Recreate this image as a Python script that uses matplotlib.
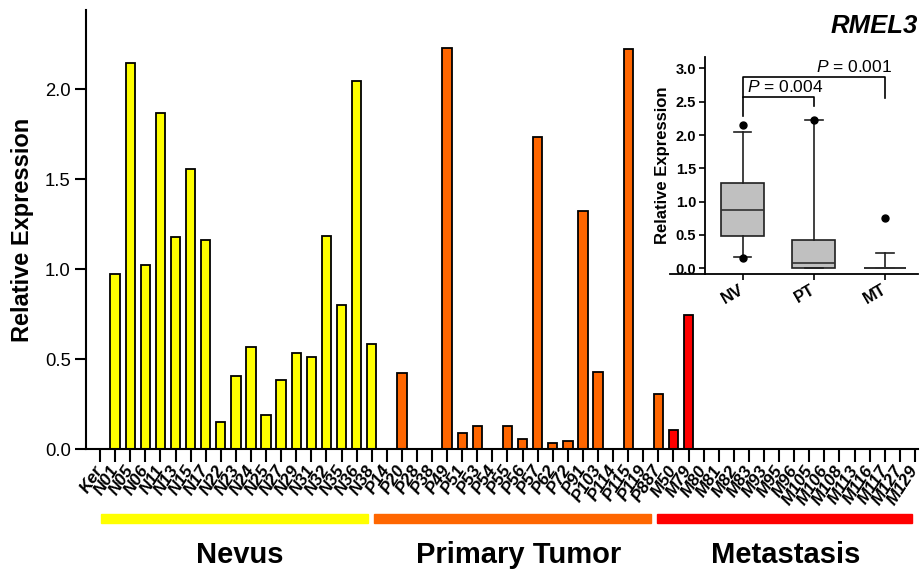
import numpy as np
import matplotlib.pyplot as plt
from matplotlib.patches import Rectangle
from matplotlib.transforms import blended_transform_factory

plt.rcParams['font.family'] = ['Liberation Sans', 'DejaVu Sans']
plt.rcParams['mathtext.fontset'] = 'custom'
plt.rcParams['mathtext.it'] = 'Liberation Sans:italic'
plt.rcParams['mathtext.rm'] = 'Liberation Sans'

# samples, grouped as in the figure
nevus_labels = ["Ker", "N01", "N05", "N06", "N11", "N13", "N15", "N17", "N22", "N23",
                "N24", "N25", "N27", "N29", "N31", "N32", "N35", "N36", "N38"]
nevus_values = [0.0, 0.97, 2.146, 1.022, 1.865, 1.18, 1.559, 1.161, 0.152, 0.407,
                0.568, 0.189, 0.383, 0.535, 0.513, 1.183, 0.798, 2.044, 0.585]
primary_labels = ["P14", "P20", "P28", "P38", "P49", "P51", "P53", "P54", "P55", "P56",
                  "P57", "P62", "P72", "P91", "P103", "P114", "P115", "P119", "P887"]
primary_values = [0.0, 0.424, 0.0, 0.0, 2.23, 0.089, 0.13, 0.0, 0.13, 0.057,
                  1.735, 0.035, 0.046, 1.324, 0.428, 0.0, 2.224, 0.0, 0.304]
meta_labels = ["M50", "M79", "M80", "M81", "M82", "M83", "M93", "M95", "M96", "M105",
               "M106", "M108", "M113", "M116", "M117", "M127", "M129"]
meta_values = [0.107, 0.746, 0, 0, 0, 0, 0, 0, 0, 0, 0, 0, 0, 0, 0, 0, 0]

group_names = ["Nevus", "Primary Tumor", "Metastasis"]
group_colors = ["#FFFF00", "#FF6600", "#FF0000"]

# inset box plot summary
box_names = ["NV", "PT", "MT"]
box_med = [0.88, 0.085, 0.0]
box_q1 = [0.487, 0.0, 0.0]
box_q3 = [1.276, 0.427, 0.0]
box_lo = [0.175, 0.0, 0.0]
box_hi = [2.045, 2.23, 0.235]
box_fliers = [[0.15, 2.146], [2.23], [0.754]]

labels = nevus_labels + primary_labels + meta_labels
values = nevus_values + primary_values + meta_values
colors = ([group_colors[0]] * len(nevus_labels) + [group_colors[1]] * len(primary_labels)
          + [group_colors[2]] * len(meta_labels))
x = np.arange(len(labels))

fig = plt.figure(figsize=(9.21, 5.73), dpi=100)
ax = fig.add_axes([0.0934, 0.2164, 0.9033, 0.7661])
ax.bar(x, values, width=0.62, color=colors, edgecolor='black', linewidth=1.3)
ax.set_xlim(-0.93, 54.2)
ax.set_ylim(0, 2.44)
ax.set_yticks([0.0, 0.5, 1.0, 1.5, 2.0])
ax.set_yticklabels(["0.0", "0.5", "1.0", "1.5", "2.0"], fontsize=13.3)
ax.set_xticks(x)
ax.set_xticklabels(labels, rotation=57, ha='right', va='center', rotation_mode='anchor',
                   fontsize=12.5, fontweight='bold', fontstyle='italic')
ax.tick_params(axis='x', length=9, width=1.5, pad=4)
ax.tick_params(axis='y', length=8, width=1.5, pad=3)
for s in ['top', 'right']:
    ax.spines[s].set_visible(False)
for s in ['left', 'bottom']:
    ax.spines[s].set_linewidth(1.5)
ax.set_ylabel("Relative Expression", fontsize=17, fontweight='bold', labelpad=8)

# group bars under the tick labels
trans = blended_transform_factory(ax.transData, fig.transFigure)
spans = [(0.04, 17.75), (18.15, 36.5), (36.9, 53.8)]
label_x = [240, 519, 786]
for (a, b), c, name, lx in zip(spans, group_colors, group_names, label_x):
    ax.add_patch(Rectangle((a, 0.087), b - a, 0.016, transform=trans, color=c,
                           clip_on=False))
    fig.text(lx / 921, 1 - 563 / 573, name, ha='center', va='baseline',
             fontsize=21, fontweight='bold')

fig.text(918 / 921, 1 - 33 / 573, "RMEL3", ha='right', va='baseline',
         fontsize=18.5, fontweight='bold', fontstyle='italic')

# inset box plot
ins = fig.add_axes([0.765, 0.5213, 0.2317, 0.3797])
stats = []
for i in range(3):
    stats.append(dict(med=box_med[i], q1=box_q1[i], q3=box_q3[i], whislo=box_lo[i],
                      whishi=box_hi[i], fliers=box_fliers[i], label=box_names[i]))
ins.bxp(stats, positions=[0, 1, 2], widths=0.6, capwidths=0.25, patch_artist=True,
        boxprops=dict(facecolor='#C0C0C0', edgecolor='#202020', linewidth=1.2),
        medianprops=dict(color='#303030', linewidth=1.2),
        whiskerprops=dict(color='#202020', linewidth=1.2),
        capprops=dict(color='#202020', linewidth=1.2),
        flierprops=dict(marker='o', markerfacecolor='black', markeredgecolor='black',
                        markersize=5))
ins.set_xlim(-0.534, 2.465)
ins.set_ylim(-0.09, 3.175)
ins.set_yticks([0.0, 0.5, 1.0, 1.5, 2.0, 2.5, 3.0])
ins.set_yticklabels(["0.0", "0.5", "1.0", "1.5", "2.0", "2.5", "3.0"],
                    fontsize=10.5, fontweight='bold')
ins.set_xticks([0, 1, 2])
ins.set_xticklabels(box_names, rotation=30, ha='right', va='center',
                    rotation_mode='anchor', fontsize=12, fontweight='bold')
ins.tick_params(axis='y', length=4, width=1.2, pad=2)
ins.tick_params(axis='x', length=4, width=1.2, pad=6)
ins.patch.set_alpha(0)
for s in ['top', 'right']:
    ins.spines[s].set_visible(False)
for s in ['left', 'bottom']:
    ins.spines[s].set_linewidth(1.3)
ins.plot([-1.018, -0.534], [-0.09, -0.09], color='black', lw=1.3, clip_on=False)
ins.set_ylabel("Relative Expression", fontsize=12, fontweight='bold', labelpad=4)

# significance brackets
ins.plot([0, 0, 1, 1], [2.28, 2.57, 2.57, 2.44], color='black', lw=1.2)
ins.plot([0, 0, 2, 2], [2.57, 2.87, 2.87, 2.55], color='black', lw=1.2)
ins.text(0.06, 2.60, "$P$ = 0.004", fontsize=12.5, ha='left', va='bottom')
ins.text(1.03, 2.90, "$P$ = 0.001", fontsize=12.5, ha='left', va='bottom')

fig.savefig("out.png", dpi=100)
